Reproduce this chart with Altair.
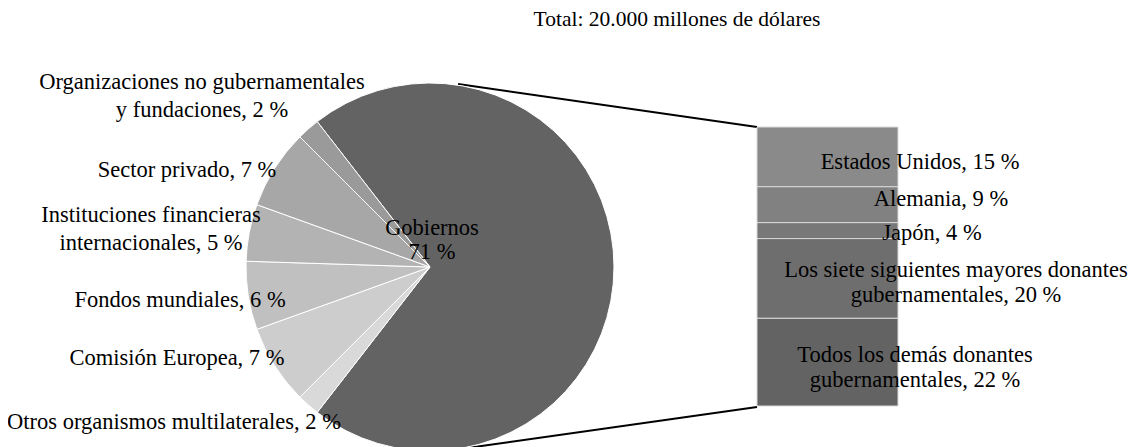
import math
import altair as alt
import pandas as pd

# ---------------- data ----------------
pie_categories = [
    "Gobiernos",
    "Otros organismos multilaterales",
    "Comisión Europea",
    "Fondos mundiales",
    "Instituciones financieras internacionales",
    "Sector privado",
    "Organizaciones no gubernamentales y fundaciones",
]
pie_values = [71, 2, 7, 6, 5, 7, 2]
pie_labels = [
    "Gobiernos\n71 %",
    "Otros organismos multilaterales, 2 %",
    "Comisión Europea, 7 %",
    "Fondos mundiales, 6 %",
    "Instituciones financieras\ninternacionales, 5 %",
    "Sector privado, 7 %",
    "Organizaciones no gubernamentales\ny fundaciones, 2 %",
]

bar_categories = [
    "Estados Unidos",
    "Alemania",
    "Japón",
    "Los siete siguientes mayores donantes gubernamentales",
    "Todos los demás donantes gubernamentales",
]
bar_values = [15, 9, 4, 20, 22]
bar_labels = [
    "Estados Unidos, 15 %",
    "Alemania, 9 %",
    "Japón, 4 %",
    "Los siete siguientes mayores donantes\ngubernamentales, 20 %",
    "Todos los demás donantes\ngubernamentales, 22 %",
]

title_text = "Total: 20.000 millones de dólares"

# ---------------- styles / layout ----------------
FONT = "Liberation Serif, Times New Roman, serif"
FS = 22.5
FS_TITLE = 21.5
pie_colors = ["#636363", "#d9d9d9", "#cdcdcd", "#c0c0c0", "#b3b3b3", "#a7a7a7", "#9a9a9a"]
bar_colors = ["#8a8a8a", "#818181", "#787878", "#6e6e6e", "#636363"]

W, H = 1124, 450
CX, CY, R = 422, 259, 184
# first-line centre of every pie label (pixels)
pie_label_x = [424, 166, 169, 172, 143, 179, 194]
pie_label_y = [220, 414, 350, 292, 207, 162, 74]
pie_label_lh = [24, 28, 28, 28, 28, 28, 28]

BAR_X0, BAR_X1 = 749, 890
BAR_TOP, BAR_BOT = 119, 398
bar_label_x = [912, 933, 924, 948, 907]
bar_label_dy = [5, -6, 2, -8.5, -7]   # pixel nudges from the segment middle

# ---------------- tables ----------------
pie_df = pd.DataFrame({
    "cat": pie_categories,
    "value": pie_values,
    "order": list(range(len(pie_values))),
})
pie_lab_df = pd.DataFrame({
    "label": pie_labels,
    "lx": pie_label_x,
    "ly": pie_label_y,
    "lh": pie_label_lh,
})

total_bar = float(sum(bar_values))
px_per_unit = (BAR_BOT - BAR_TOP) / total_bar
ends = pd.Series(bar_values, dtype=float).cumsum()
bar_df = pd.DataFrame({
    "bcat": bar_categories,
    "value": bar_values,
    "start": ends - pd.Series(bar_values, dtype=float),
    "end": ends,
    "label": bar_labels,
    "lx": bar_label_x,
})
bar_df["ly"] = (bar_df["start"] + bar_df["end"]) / 2 + pd.Series(bar_label_dy) / px_per_unit

# Gobiernos slice centred on the right-hand side
start_angle = math.pi / 2 - math.pi * pie_values[0] / 100.0

pie = alt.Chart(pie_df).mark_arc(radius=R, stroke="white", strokeWidth=1).encode(
    theta=alt.Theta("value:Q", stack=True,
                    scale=alt.Scale(domain=[0, 100], range=[start_angle, start_angle + 2 * math.pi])),
    order=alt.Order("order:Q"),
    color=alt.Color("cat:N", scale=alt.Scale(domain=pie_categories, range=pie_colors), legend=None),
    x=alt.value(CX),
    y=alt.value(CY),
)

yscale = alt.Scale(domain=[0, total_bar], range=[BAR_TOP, BAR_BOT], nice=False, zero=False)

bars = alt.Chart(bar_df).mark_bar(stroke="#d9d9d9", strokeWidth=1).encode(
    x=alt.value(BAR_X0),
    x2=alt.value(BAR_X1),
    y=alt.Y("start:Q", scale=yscale, axis=None),
    y2="end:Q",
    fill=alt.Fill("bcat:N", scale=alt.Scale(domain=bar_categories, range=bar_colors), legend=None),
)

lines_df = pd.DataFrame({
    "x": [450, 452], "y": [76, 441], "x2": [BAR_X0, BAR_X0], "y2": [BAR_TOP, BAR_BOT + 1],
})
connectors = alt.Chart(lines_df).mark_rule(color="black", strokeWidth=2).encode(
    x=alt.X("x:Q", scale=None),
    y=alt.Y("y:Q", scale=None),
    x2="x2:Q",
    y2="y2:Q",
)

pie_text_layers = []
for lh in sorted(set(pie_label_lh)):
    sub = pie_lab_df[pie_lab_df["lh"] == lh]
    pie_text_layers.append(
        alt.Chart(sub).mark_text(font=FONT, fontSize=FS, color="black", align="center",
                                 baseline="middle", lineBreak="\n", lineHeight=lh).encode(
            x=alt.X("lx:Q", scale=None),
            y=alt.Y("ly:Q", scale=None),
            text="label:N",
        )
    )

bar_text = alt.Chart(bar_df).mark_text(font=FONT, fontSize=FS, color="black", align="center",
                                       baseline="middle", lineBreak="\n", lineHeight=25).encode(
    x=alt.X("lx:Q", scale=None),
    y=alt.Y("ly:Q", scale=yscale, axis=None),
    text="label:N",
)

title = alt.Chart(pd.DataFrame({"t": [title_text]})).mark_text(
    font=FONT, fontSize=FS_TITLE, color="black", align="center", baseline="middle").encode(
    x=alt.value(669), y=alt.value(12), text="t:N")

chart = alt.layer(connectors, pie, bars, *pie_text_layers, bar_text, title).resolve_scale(
    color="independent", fill="independent"
).properties(
    width=W, height=H, padding=0,
    autosize=alt.AutoSizeParams(type="none"),
).configure(background="white").configure_view(strokeWidth=0, stroke="transparent")

chart.save("out.html", embed_options={"renderer": "svg", "actions": False})
